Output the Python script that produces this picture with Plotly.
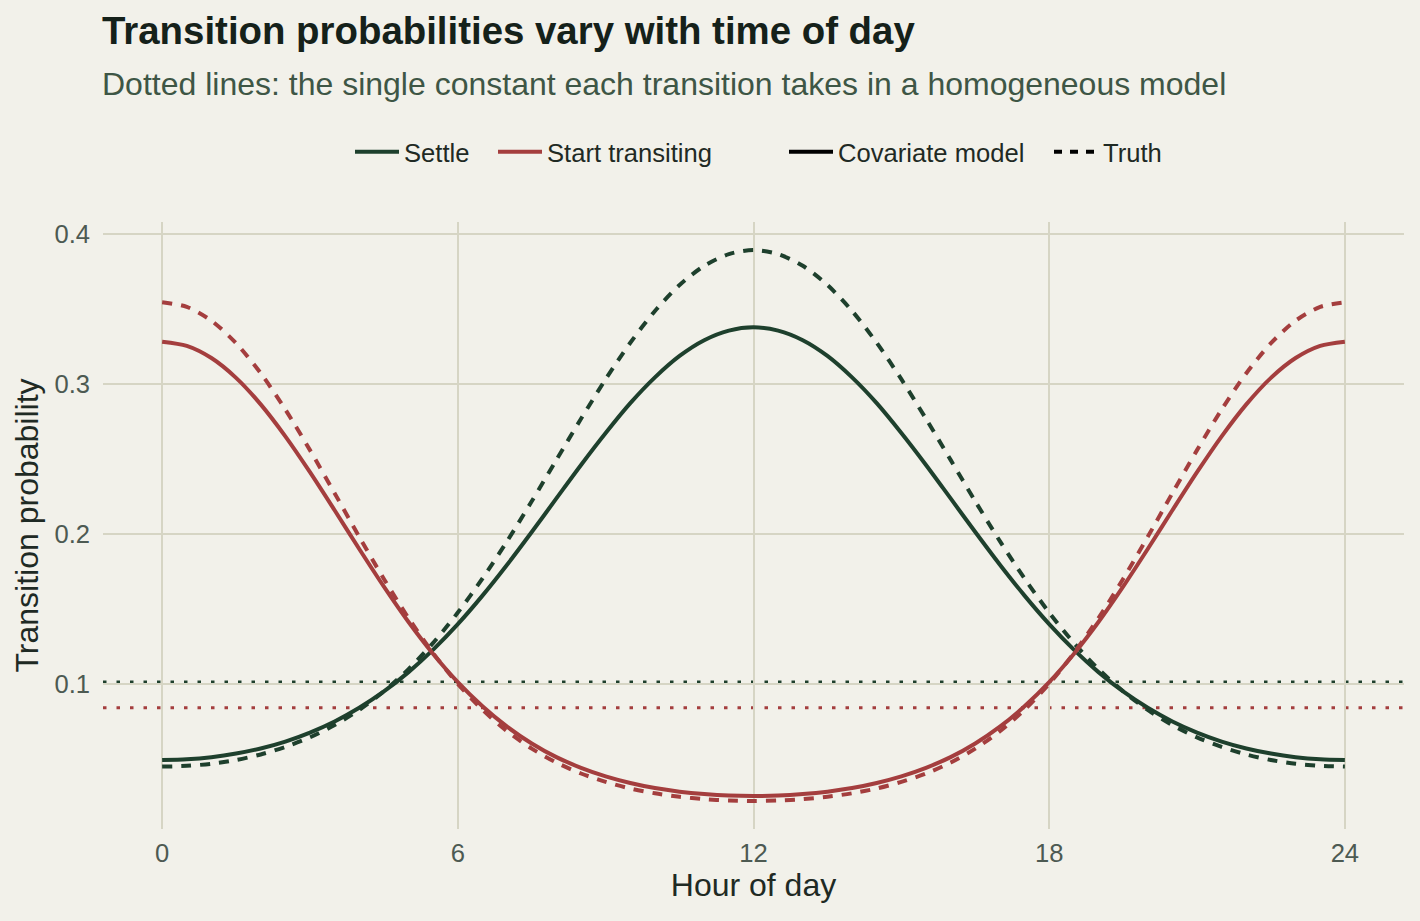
import plotly.graph_objects as go

hours = [0, 0.5, 1, 1.5, 2, 2.5, 3, 3.5, 4, 4.5, 5, 5.5, 6, 6.5, 7, 7.5, 8, 8.5, 9, 9.5,
         10, 10.5, 11, 11.5, 12, 12.5, 13, 13.5, 14, 14.5, 15, 15.5, 16, 16.5, 17, 17.5,
         18, 18.5, 19, 19.5, 20, 20.5, 21, 21.5, 22, 22.5, 23, 23.5, 24]

settle_cov = [0.0493, 0.0498, 0.0512, 0.0536, 0.0570, 0.0616, 0.0676, 0.0750, 0.0841,
              0.0950, 0.1079, 0.1229, 0.1399, 0.1589, 0.1795, 0.2013, 0.2237, 0.2460,
              0.2673, 0.2872, 0.3044, 0.3187, 0.3292, 0.3356, 0.3378, 0.3356, 0.3292,
              0.3187, 0.3044, 0.2872, 0.2673, 0.2460, 0.2237, 0.2013, 0.1795, 0.1589,
              0.1399, 0.1229, 0.1079, 0.0950, 0.0841, 0.0750, 0.0676, 0.0616, 0.0570,
              0.0536, 0.0512, 0.0498, 0.0493]
settle_true = [0.0449, 0.0454, 0.0468, 0.0493, 0.0530, 0.0580, 0.0644, 0.0726, 0.0827,
               0.0951, 0.1099, 0.1274, 0.1476, 0.1703, 0.1952, 0.2218, 0.2494, 0.2768,
               0.3032, 0.3275, 0.3487, 0.3660, 0.3788, 0.3866, 0.3893, 0.3866, 0.3788,
               0.3660, 0.3487, 0.3275, 0.3032, 0.2768, 0.2494, 0.2218, 0.1952, 0.1703,
               0.1476, 0.1274, 0.1099, 0.0951, 0.0827, 0.0726, 0.0644, 0.0580, 0.0530,
               0.0493, 0.0468, 0.0454, 0.0449]
start_cov = [0.3282, 0.3254, 0.3173, 0.3041, 0.2864, 0.2651, 0.2412, 0.2158, 0.1900,
             0.1649, 0.1413, 0.1200, 0.1012, 0.0851, 0.0715, 0.0603, 0.0512, 0.0441,
             0.0384, 0.0340, 0.0306, 0.0282, 0.0266, 0.0256, 0.0253, 0.0256, 0.0266,
             0.0282, 0.0306, 0.0340, 0.0384, 0.0441, 0.0512, 0.0603, 0.0715, 0.0851,
             0.1012, 0.1200, 0.1413, 0.1649, 0.1900, 0.2158, 0.2412, 0.2651, 0.2864,
             0.3041, 0.3173, 0.3254, 0.3282]
start_true = [0.3545, 0.3514, 0.3422, 0.3272, 0.3072, 0.2830, 0.2559, 0.2272, 0.1981,
              0.1700, 0.1439, 0.1205, 0.1001, 0.0828, 0.0685, 0.0569, 0.0476, 0.0403,
              0.0347, 0.0303, 0.0271, 0.0248, 0.0232, 0.0223, 0.0220, 0.0223, 0.0232,
              0.0248, 0.0271, 0.0303, 0.0347, 0.0403, 0.0476, 0.0569, 0.0685, 0.0828,
              0.1001, 0.1205, 0.1439, 0.1700, 0.1981, 0.2272, 0.2559, 0.2830, 0.3072,
              0.3272, 0.3422, 0.3514, 0.3545]

homog_settle = 0.1013
homog_start = 0.0842

x_ticks = [0, 6, 12, 18, 24]
y_ticks = [0.1, 0.2, 0.3, 0.4]
y_tick_labels = ["0.1", "0.2", "0.3", "0.4"]

GREEN = "#1E402D"
RED = "#A43E3E"
BG = "#F2F1EA"
GRID = "#D6D5C4"
FONT = "Liberation Sans, Arial, Helvetica, sans-serif"

fig = go.Figure()

series = [
    (settle_cov, GREEN, "solid"),
    (settle_true, GREEN, "10px,9px"),
    (start_cov, RED, "solid"),
    (start_true, RED, "10px,9px"),
]
for ys, col, dash in series:
    fig.add_trace(go.Scatter(x=hours, y=ys, mode="lines",
                             line=dict(color=col, width=4, dash=dash, shape="spline", smoothing=0.8),
                             showlegend=False, hoverinfo="skip"))

for val, col in [(homog_settle, GREEN), (homog_start, RED)]:
    fig.add_shape(type="line", xref="paper", x0=0, x1=1, yref="y", y0=val, y1=val,
                  line=dict(color=col, width=3, dash="3.5px,10px"), layer="below")

# legend entries (colour guide, then linetype guide)
legend_items = [
    ("Settle", GREEN, "solid", "legend"),
    ("Start transiting", RED, "solid", "legend2"),
    ("Covariate model", "#000000", "solid", "legend3"),
    ("Truth", "#000000", "8px,8px", "legend4"),
]
for name, col, dash, lg in legend_items:
    fig.add_trace(go.Scatter(x=[None], y=[None], mode="lines", name=name,
                             line=dict(color=col, width=4, dash=dash), legend=lg))

L, R, T, B = 103, 16, 222, 92
W, H = 1420, 921
pw = W - L - R
ph = H - T - B

def px_to_paper_x(p):
    return (p - L) / pw

def px_to_paper_y(p):
    return (H - B - p) / ph

legend_common = dict(orientation="h", xanchor="left", yanchor="middle",
                     font=dict(family=FONT, size=25.6, color="#1F2A24"),
                     bgcolor="rgba(0,0,0,0)", itemwidth=44, y=px_to_paper_y(152))

fig.update_layout(
    width=W, height=H,
    margin=dict(l=L, r=R, t=T, b=B),
    paper_bgcolor=BG, plot_bgcolor=BG,
    font=dict(family=FONT, color="#1F2A24"),
    legend=dict(x=px_to_paper_x(350), **legend_common),
    legend2=dict(x=px_to_paper_x(493), **legend_common),
    legend3=dict(x=px_to_paper_x(784), **legend_common),
    legend4=dict(x=px_to_paper_x(1049), **legend_common),
    xaxis=dict(range=[-1.2, 25.2], tickvals=x_ticks, ticktext=[str(v) for v in x_ticks],
               showgrid=True, gridcolor=GRID, gridwidth=1.5, zeroline=False, showline=False,
               ticks="", ticklabelstandoff=6,
               tickfont=dict(family=FONT, size=25.6, color="#4D5A52"),
               title=dict(text="Hour of day", font=dict(family=FONT, size=32, color="#1F2A24"),
                          standoff=8)),
    yaxis=dict(range=[0.0033, 0.408], tickvals=y_ticks, ticktext=y_tick_labels,
               showgrid=True, gridcolor=GRID, gridwidth=1.5, zeroline=False, showline=False,
               ticks="", ticklabelstandoff=12,
               tickfont=dict(family=FONT, size=25.6, color="#4D5A52"),
               title=dict(text="Transition probability",
                          font=dict(family=FONT, size=32, color="#1F2A24"), standoff=6)),
    annotations=[
        dict(text="<b>Transition probabilities vary with time of day</b>", xref="paper", yref="paper",
             x=px_to_paper_x(100), y=px_to_paper_y(30), xanchor="left", yanchor="middle",
             showarrow=False, font=dict(family=FONT, size=38.4, color="#15211A")),
        dict(text="Dotted lines: the single constant each transition takes in a homogeneous model",
             xref="paper", yref="paper", x=px_to_paper_x(100), y=px_to_paper_y(84),
             xanchor="left", yanchor="middle",
             showarrow=False, font=dict(family=FONT, size=32, color="#3E5645")),
    ],
)

fig.write_html("out.html")
